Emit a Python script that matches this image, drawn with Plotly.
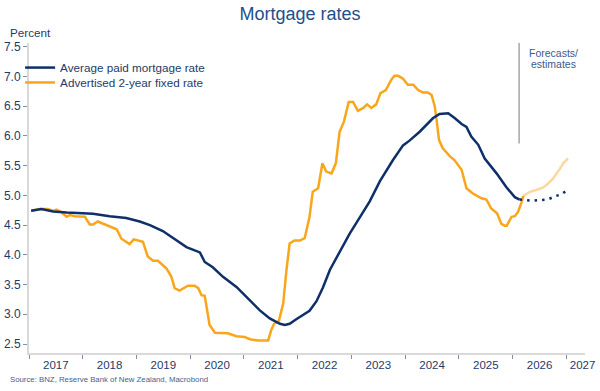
import plotly.graph_objects as go

# ---------------- data (decimal years, percent) ----------------
avg_t = [2017.04, 2017.23, 2017.45, 2017.70, 2018.00, 2018.19, 2018.50, 2018.81, 2019.06, 2019.25,
         2019.49, 2019.68, 2019.93, 2020.18, 2020.27, 2020.42, 2020.61, 2020.86, 2021.11, 2021.29,
         2021.48, 2021.67, 2021.76, 2021.85, 2021.98, 2022.22, 2022.35, 2022.47, 2022.60, 2022.78,
         2022.97, 2023.15, 2023.34, 2023.53, 2023.77, 2023.96, 2024.08, 2024.27, 2024.52, 2024.64,
         2024.80, 2024.92, 2025.05, 2025.14, 2025.23, 2025.36, 2025.48, 2025.70, 2025.88, 2026.04,
         2026.13]
avg_v = [4.74, 4.77, 4.73, 4.71, 4.70, 4.69, 4.65, 4.62, 4.56, 4.50,
         4.40, 4.28, 4.13, 4.04, 3.88, 3.79, 3.63, 3.46, 3.24, 3.07,
         2.93, 2.84, 2.82, 2.84, 2.92, 3.06, 3.22, 3.45, 3.75, 4.05,
         4.36, 4.62, 4.90, 5.24, 5.59, 5.84, 5.92, 6.07, 6.30, 6.37,
         6.38, 6.30, 6.20, 6.15, 5.99, 5.85, 5.62, 5.37, 5.14, 4.97,
         4.93]

avg_fc_t = [2026.13, 2026.35, 2026.50, 2026.65, 2026.78, 2026.91, 2027.04]
avg_fc_v = [4.93, 4.91, 4.92, 4.93, 4.98, 5.02, 5.10]

fix_t = [2017.04, 2017.20, 2017.35, 2017.45, 2017.51, 2017.60, 2017.70, 2017.76, 2017.85, 2018.04,
         2018.13, 2018.19, 2018.28, 2018.41, 2018.53, 2018.63, 2018.72, 2018.87, 2018.95, 2019.06,
         2019.12, 2019.21, 2019.31, 2019.40, 2019.56, 2019.65, 2019.71, 2019.80, 2019.96, 2020.08,
         2020.15, 2020.21, 2020.27, 2020.36, 2020.46, 2020.70, 2020.86, 2021.01, 2021.11, 2021.26,
         2021.45, 2021.51, 2021.56, 2021.65, 2021.73, 2021.79, 2021.85, 2021.94, 2022.04, 2022.13,
         2022.19, 2022.22, 2022.28, 2022.38, 2022.46, 2022.53, 2022.63, 2022.71, 2022.78, 2022.86,
         2022.95, 2023.03, 2023.12, 2023.22, 2023.29, 2023.37, 2023.46, 2023.54, 2023.64, 2023.74,
         2023.80, 2023.87, 2023.96, 2024.05, 2024.15, 2024.24, 2024.33, 2024.42, 2024.49, 2024.55,
         2024.58, 2024.63, 2024.70, 2024.83, 2024.92, 2025.05, 2025.14, 2025.26, 2025.42, 2025.51,
         2025.60, 2025.71, 2025.79, 2025.85, 2025.89, 2025.98, 2026.04, 2026.10, 2026.16, 2026.20]
fix_v = [4.74, 4.77, 4.77, 4.74, 4.76, 4.72, 4.64, 4.67, 4.65, 4.64,
         4.51, 4.51, 4.56, 4.51, 4.47, 4.43, 4.27, 4.18, 4.26, 4.23,
         4.22, 3.97, 3.90, 3.90, 3.77, 3.63, 3.44, 3.40, 3.48, 3.48,
         3.44, 3.32, 3.31, 2.82, 2.69, 2.68, 2.63, 2.62, 2.58, 2.56,
         2.56, 2.74, 2.84, 2.89, 3.18, 3.74, 4.19, 4.24, 4.24, 4.28,
         4.50, 4.64, 5.06, 5.12, 5.54, 5.40, 5.37, 5.54, 6.07, 6.24,
         6.57, 6.57, 6.42, 6.47, 6.53, 6.47, 6.53, 6.72, 6.77, 6.94,
         7.01, 7.01, 6.96, 6.86, 6.86, 6.77, 6.73, 6.73, 6.69, 6.50,
         6.30, 5.93, 5.79, 5.66, 5.59, 5.43, 5.12, 5.03, 4.95, 4.93,
         4.78, 4.70, 4.52, 4.49, 4.49, 4.64, 4.65, 4.72, 4.87, 4.99]

fix_fc_t = [2026.20, 2026.32, 2026.44, 2026.56, 2026.66, 2026.75, 2026.88, 2026.94, 2027.03]
fix_fc_v = [4.99, 5.06, 5.09, 5.13, 5.20, 5.28, 5.45, 5.54, 5.62]

years = [2017, 2018, 2019, 2020, 2021, 2022, 2023, 2024, 2025, 2026, 2027]
year_labels = [str(y) for y in years]
y_ticks = [2.5, 3.0, 3.5, 4.0, 4.5, 5.0, 5.5, 6.0, 6.5, 7.0, 7.5]
forecast_start = 2026.12

# ---------------- styling ----------------
FONT = "Liberation Sans, Arial, sans-serif"
NAVY = "#0E2F6A"
ORANGE = "#F9A61A"
LIGHT_ORANGE = "#FDD7A0"
TXT = "#1F3A68"
TICKC = "#7F8FA6"
AXC = "#D9D9D9"

fig = go.Figure()
fig.add_trace(go.Scatter(x=fix_fc_t, y=fix_fc_v, mode="lines", showlegend=False,
                         line=dict(color=LIGHT_ORANGE, width=2.5)))
fig.add_trace(go.Scatter(x=fix_t, y=fix_v, mode="lines", name="Advertised 2-year fixed rate",
                         legend="legend2", line=dict(color=ORANGE, width=2.5)))
fig.add_trace(go.Scatter(x=avg_fc_t, y=avg_fc_v, mode="lines", showlegend=False,
                         line=dict(color=NAVY, width=2.5, dash="2.5px,5px")))
fig.add_trace(go.Scatter(x=avg_t, y=avg_v, mode="lines", name="Average paid mortgage rate",
                         legend="legend", line=dict(color=NAVY, width=2.5)))

label_pos = [y + 0.5 for y in years[:-1]] + [2027.3]

legend_common = dict(xanchor="left", yanchor="top", bgcolor="rgba(0,0,0,0)",
                     font=dict(size=11.7, color=TXT, family=FONT), itemwidth=30)

fig.update_layout(
    template="none",
    width=600, height=391,
    margin=dict(l=29, r=15, t=43, b=38, autoexpand=False),
    paper_bgcolor="white", plot_bgcolor="white",
    font=dict(family=FONT, color=TXT, size=12),
    title=dict(text="Mortgage rates", x=0.5, xanchor="center", xref="container",
               y=1 - 13.7 / 391, yanchor="middle", yref="container",
               font=dict(size=18, color="#1F4E8C", family=FONT)),
    showlegend=True,
    legend=dict(x=-0.016, y=0.9675, **legend_common),
    legend2=dict(x=-0.016, y=0.9195, **legend_common),
    xaxis=dict(range=[2017.0, 2027.346], tickmode="array", tickvals=label_pos, ticktext=year_labels,
               ticks="", showgrid=False, zeroline=False, showline=True, linecolor=AXC, linewidth=2,
               tickfont=dict(size=11.5, color=TXT, family=FONT), automargin=False,
               minor=dict(tickmode="array", tickvals=years, ticks="outside", ticklen=4,
                          tickcolor=TICKC, tickwidth=1, showgrid=False)),
    yaxis=dict(range=[2.349, 7.562], tickmode="array", tickvals=y_ticks, tickformat=".1f",
               ticks="outside", ticklen=4, tickcolor=TICKC, tickwidth=1,
               showgrid=False, zeroline=False, showline=True, linecolor=AXC, linewidth=2,
               tickfont=dict(size=12, color=TXT, family=FONT), automargin=False),
)

fig.add_shape(type="line", xref="x", yref="y", x0=forecast_start, x1=forecast_start,
              y0=5.87, y1=7.56, line=dict(color="#A6A6A6", width=1.5))

fig.add_annotation(text="Forecasts/", xref="x", yref="y", x=2026.76, y=7.393,
                   showarrow=False, xanchor="center", yanchor="middle",
                   font=dict(size=10.5, color="#3A5A90", family=FONT))
fig.add_annotation(text="estimates", xref="x", yref="y", x=2026.76, y=7.203,
                   showarrow=False, xanchor="center", yanchor="middle",
                   font=dict(size=10.5, color="#3A5A90", family=FONT))
fig.add_annotation(text="Percent", xref="paper", yref="paper", x=-0.0378, y=1.034,
                   showarrow=False, xanchor="left", yanchor="middle",
                   font=dict(size=11.7, color=TXT, family=FONT))
fig.add_annotation(text="Source: BNZ, Reserve Bank of New Zealand, Macrobond", xref="paper",
                   yref="paper", x=-0.0378, y=-0.087, showarrow=False, xanchor="left",
                   yanchor="middle", font=dict(size=7.8, color="#3F5F8F", family=FONT))

fig.write_html("out.html", config={"displayModeBar": False},
               post_script="document.body.style.margin='0px';")
